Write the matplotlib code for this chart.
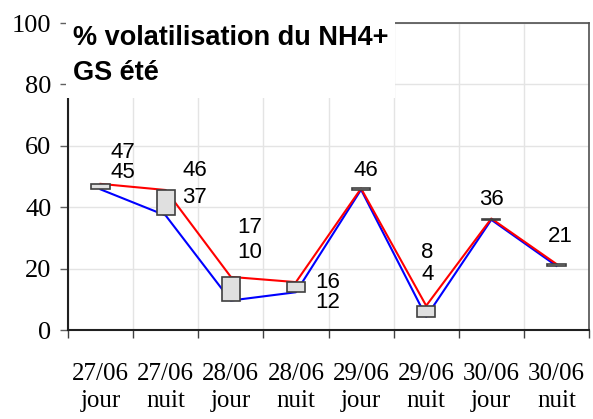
import matplotlib
matplotlib.use("Agg")
import matplotlib.pyplot as plt
from matplotlib.patches import Rectangle
from matplotlib.ticker import FixedLocator, MultipleLocator
import numpy as np

# ---- data ----
dates = ["27/06", "27/06", "28/06", "28/06", "29/06", "29/06", "30/06", "30/06"]
periods = ["jour", "nuit", "jour", "nuit", "jour", "nuit", "jour", "nuit"]
high_vals = [47.6, 45.6, 17.3, 15.6, 46.1, 7.9, 36.3, 21.5]   # red line
low_vals = [45.8, 37.3, 9.6, 12.3, 45.7, 4.3, 35.9, 20.9]     # blue line
high_labels = ["47", "46", "17", "16", "46", "8", "36", "21"]
low_labels = ["45", "37", "10", "12", "", "4", "", ""]

# ---- layout of the data labels (pixel offsets from the red point) ----
lab_dx = [22, 29, 19, 32, 5, 1, 0, 4]
hi_dy = [31, 20, 49, 0, 18, 53, 19, 27]
lo_dy = [11, -7, 24, -20, 0, 31, 0, 0]

W, H = 593, 419
fig = plt.figure(figsize=(W / 100, H / 100), dpi=100)
ax = fig.add_axes([68 / W, (H - 330) / H, (589 - 68) / W, (330 - 23) / H])

n = len(dates)
x = np.arange(n) + 0.5

ax.set_xlim(0, n)
ax.set_ylim(0, 100)

# grid
ax.set_axisbelow(True)
ax.yaxis.set_major_locator(MultipleLocator(20))
ax.xaxis.set_minor_locator(FixedLocator(np.arange(0, n + 1)))
ax.xaxis.set_major_locator(FixedLocator(x))
ax.grid(axis="y", which="major", color="#e4e4e4", lw=1)
ax.grid(axis="x", which="minor", color="#e4e4e4", lw=1)

# lines
ax.plot(x, low_vals, color="#0000ff", lw=1.5, zorder=3)
ax.plot(x, high_vals, color="#ff0000", lw=1.5, zorder=3)

# boxes
bottoms = np.minimum(low_vals, high_vals)
heights = np.abs(np.array(high_vals) - np.array(low_vals))
ax.bar(x, heights, bottom=bottoms, width=0.28, color="#e0e0e0",
       edgecolor="#404040", lw=1.2, zorder=4)

# data labels
lab_font = dict(family="Liberation Sans", size=16, color="black")
for i in range(n):
    ax.annotate(high_labels[i], (x[i], high_vals[i]), xytext=(lab_dx[i], hi_dy[i]),
                textcoords="offset pixels", ha="center", va="center", zorder=6, **lab_font)
    if low_labels[i]:
        ax.annotate(low_labels[i], (x[i], high_vals[i]), xytext=(lab_dx[i], lo_dy[i]),
                    textcoords="offset pixels", ha="center", va="center", zorder=6, **lab_font)

# ticks
ax.set_xticklabels([f"{d}\n{p}" for d, p in zip(dates, periods)],
                   family="Liberation Serif", fontsize=18, linespacing=1.3)
ax.tick_params(axis="x", which="major", length=0, pad=24)
ax.tick_params(axis="x", which="minor", length=6, width=1, color="#404040", direction="out")
ax.set_yticks([0, 20, 40, 60, 80, 100])
ax.set_yticklabels(["0", "20", "40", "60", "80", "100"], family="Liberation Serif", fontsize=19)
ax.tick_params(axis="y", length=6, width=1, color="#606060", pad=6)

for s in ["left", "bottom"]:
    ax.spines[s].set_color("#202020")
    ax.spines[s].set_linewidth(1.5)
for s in ["top", "right"]:
    ax.spines[s].set_color("#505050")
    ax.spines[s].set_linewidth(1.2)

# title box
fig.add_artist(Rectangle((66 / W, (H - 98) / H), (395 - 66) / W, 98 / H,
                         transform=fig.transFigure, facecolor="white", edgecolor="none", zorder=5))
fig.text(73 / W, (H - 45) / H, "% volatilisation du NH4+", family="Liberation Sans",
         fontweight="bold", fontsize=19.5, ha="left", va="baseline", zorder=6)
fig.text(73 / W, (H - 80) / H, "GS été", family="Liberation Sans",
         fontweight="bold", fontsize=19.5, ha="left", va="baseline", zorder=6)

fig.savefig("out.png", dpi=100)
